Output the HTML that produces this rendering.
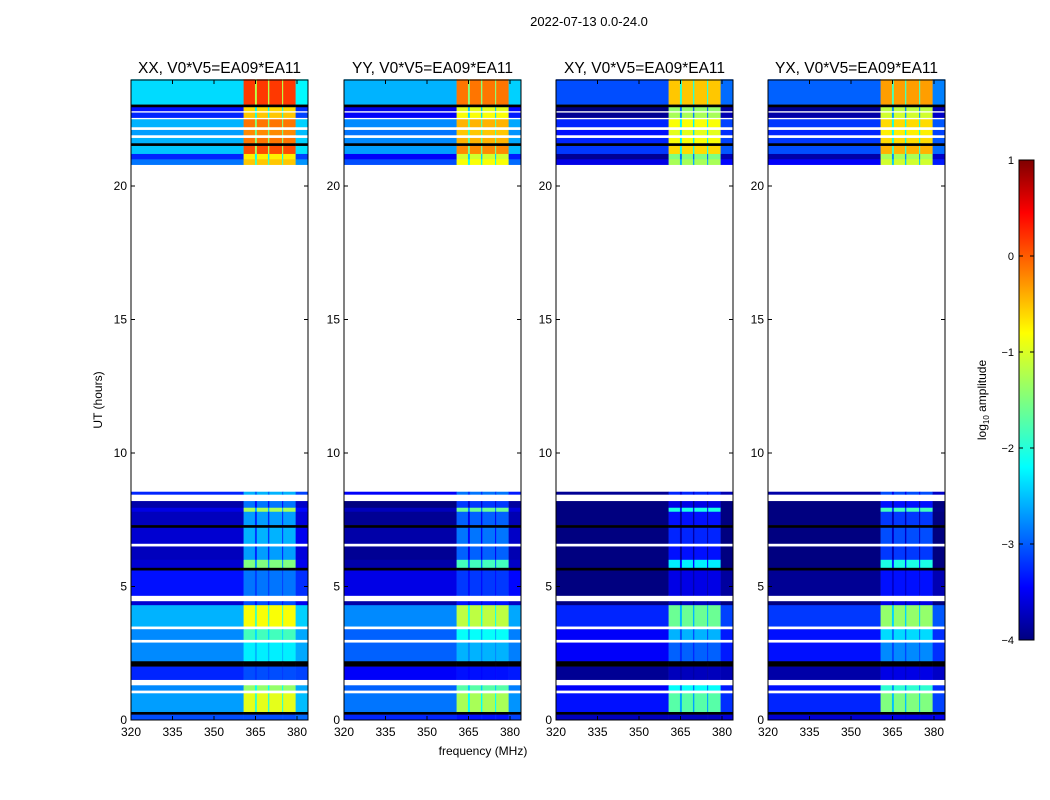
<!DOCTYPE html>
<html><head><meta charset="utf-8"><style>
body{margin:0;background:#fff;}
svg{display:block;font-family:"Liberation Sans","DejaVu Sans",sans-serif;}
</style></head><body>
<svg id="chart" width="1050" height="800">
<defs>
<linearGradient id="jet" x1="0" y1="1" x2="0" y2="0">
<stop offset="0" stop-color="#00007f"/><stop offset="0.11" stop-color="#0000ff"/>
<stop offset="0.36" stop-color="#00ffff"/><stop offset="0.5" stop-color="#7fff7f"/>
<stop offset="0.64" stop-color="#ffff00"/><stop offset="0.89" stop-color="#ff0000"/>
<stop offset="1" stop-color="#7f0000"/></linearGradient>
</defs>
<text x="589" y="26" font-size="13" text-anchor="middle">2022-07-13 0.0-24.0</text>
<text x="483" y="755" font-size="12" text-anchor="middle">frequency (MHz)</text>
<text transform="translate(102,400) rotate(-90)" font-size="12" text-anchor="middle">UT (hours)</text>
<g id="panels"></g>
<g>
<rect x="1019" y="160" width="15" height="480" fill="url(#jet)" stroke="#000" stroke-width="1"/>
<text transform="translate(986,400) rotate(-90)" font-size="12" text-anchor="middle">log<tspan font-size="8" dy="3">10</tspan><tspan dy="-3"> amplitude</tspan></text>
<g id="cbticks" font-size="11" text-anchor="end"></g>
</g>
</svg>
<script>
const panelTitles=["XX, V0*V5=EA09*EA11","YY, V0*V5=EA09*EA11","XY, V0*V5=EA09*EA11","YX, V0*V5=EA09*EA11"];
const panelBaseOffset=[0,-0.2,-0.7,-0.6];
const panelBandOffset=[0,-0.3,-0.7,-0.5];
const freqEdges=[320,360.7,364.8,365.5,369.5,370,374.6,375,379.5,384];
const colIsBand=[0,1,0,1,0,1,0,1,0];
const segStart=[23.05,22.95,22.8,22.75,22.55,22.5,22.2,22.1,21.9,21.8,21.6,21.5,21.2,21.0,20.8,8.45,7.95,7.8,7.3,7.2,6.6,6.5,6.0,5.7,5.6,4.65,4.45,4.3,3.5,3.4,3.0,2.9,2.2,2.0,1.5,1.3,1.1,1.0,0.3,0.2,0];
const segEnd=[24,23.05,22.95,22.8,22.75,22.55,22.5,22.2,22.1,21.9,21.8,21.6,21.5,21.2,21.0,8.55,8.2,7.95,7.8,7.3,7.2,6.6,6.5,6.0,5.7,5.6,4.65,4.45,4.3,3.5,3.4,3.0,2.9,2.2,2.0,1.5,1.3,1.1,1.0,0.3,0.2];
const segBase=[-2.3,'k',-3.3,'w',-3.2,'w',-2.5,'w',-2.6,'w',-2.5,'k',-2.4,-3.2,-2.8,-3.2,-3.8,-3.5,-3.7,'k',-3.6,'w',-3.7,-3.6,'k',-3.3,'w',-3.6,-2.5,'w',-2.7,'w',-2.7,'k',-3.2,'w',-2.7,'w',-2.6,'k',-3];
const segBand=[0.1,'k',-0.7,'w',-0.6,'w',-0.2,'w',-0.3,'w',-0.2,'k',0,-0.8,-0.6,-2.5,-2.8,-1.3,-2.6,'k',-2.5,'w',-2.6,-1.5,'k',-2.8,'w',-3,-0.9,'w',-1.8,'w',-2.2,'k',-3,'w',-1.4,'w',-1.0,'k',-3];
const xTicks=[320,335,350,365,380];
const yTicks=[0,5,10,15,20];
const cbTicks=[1,0,-1,-2,-3,-4];
const panelLeft=[131,344,556,768], panelW=177, topY=80, bottomY=720;
const fx=(f,i)=>panelLeft[i]+(f-320)*(166/60);
const hy=h=>720-h*(534/20);
const cy=v=>640-(v+4)*96;
function jet(v){let t=Math.max(0,Math.min(1,(v+4)/5));
 const c=x=>Math.round(255*Math.max(0,Math.min(1,1.5-Math.abs(4*t-x))));
 return `rgb(${c(3)},${c(2)},${c(1)})`;}
const NS="http://www.w3.org/2000/svg";
const G=document.getElementById('panels');
function mk(tag,at,par){const e=document.createElementNS(NS,tag);for(const k in at)e.setAttribute(k,at[k]);par.appendChild(e);return e;}
for(let p=0;p<4;p++){
 const g=mk('g',{},G);
 
 
 mk('rect',{x:panelLeft[p],y:topY,width:panelW,height:bottomY-topY,fill:'#fff'},g);
 for(let s=0;s<segStart.length;s++){
  for(let c=0;c<colIsBand.length;c++){
   let b=segBase[s],d=segBand[s],col;
   if(b==='k')col='#000';else if(b==='w')col='#fff';
   else{const base=b+panelBaseOffset[p],band=d+panelBandOffset[p];
    const isGap=(c===2||c===4||c===6);
    let v=colIsBand[c]?band:(isGap?base+0.45*(band-base):base);
    if(c===8)v=base+0.15;
    col=jet(v);}
   const x1=fx(freqEdges[c],p),x2=Math.min(fx(freqEdges[c+1],p),panelLeft[p]+panelW);
   const r=mk('rect',{x:x1,y:hy(segEnd[s]),width:x2-x1+0.3,height:hy(segStart[s])-hy(segEnd[s])+0.3,fill:col},g);
   
   
  }
 }
 mk('rect',{x:panelLeft[p],y:topY,width:panelW,height:bottomY-topY,fill:'none',stroke:'#000','stroke-width':1},g);
 const t=mk('text',{x:panelLeft[p]+panelW/2,y:73,'font-size':15.5,'text-anchor':'middle'},g);t.textContent=panelTitles[p];
 
 
 for(const f of xTicks){const x=fx(f,p);
  mk('line',{x1:x,x2:x,y1:bottomY,y2:bottomY-4,stroke:'#000'},g);
  mk('line',{x1:x,x2:x,y1:topY,y2:topY+4,stroke:'#000'},g);
  const l=mk('text',{x:x,y:736,'font-size':12,'text-anchor':'middle'},g);l.textContent=f;
  
  }
 for(const h of yTicks){const y=hy(h);
  mk('line',{x1:panelLeft[p],x2:panelLeft[p]+4,y1:y,y2:y,stroke:'#000'},g);
  mk('line',{x1:panelLeft[p]+panelW,x2:panelLeft[p]+panelW-4,y1:y,y2:y,stroke:'#000'},g);
  const l=mk('text',{x:panelLeft[p]-4,y:y+4,'font-size':12,'text-anchor':'end'},g);l.textContent=h;
  
  }
}
const CB=document.getElementById('cbticks');
for(const v of cbTicks){const y=cy(v);
 mk('line',{x1:1019,x2:1023,y1:y,y2:y,stroke:'#000'},CB);
 mk('line',{x1:1034,x2:1030,y1:y,y2:y,stroke:'#000'},CB);
 const l=mk('text',{x:1014,y:y+4},CB);l.textContent=v<0?'\u2212'+(-v):v;
 
 }
</script>
</body></html>
